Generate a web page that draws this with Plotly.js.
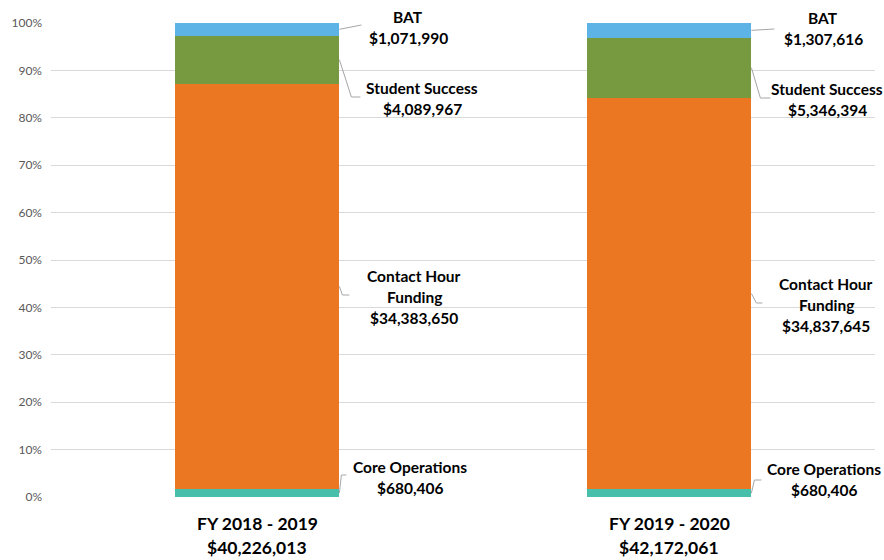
<!DOCTYPE html>
<html><head><meta charset="utf-8">
<script src="https://cdn.plot.ly/plotly-3.0.1.min.js"></script>
<style>body{margin:0;background:#fff}</style></head>
<body><div id="chart" style="width:884px;height:560px"></div>
<script>
// ---- data ----
const years = ['FY 2018 - 2019', 'FY 2019 - 2020'];
const seriesNames = ['Core Operations', 'Contact Hour Funding', 'Student Success', 'BAT'];
const labelLines = [['Core Operations'], ['Contact Hour', 'Funding'], ['Student Success'], ['BAT']];
const coreOps = [680406, 680406];
const contactHour = [34383650, 34837645];
const studentSuccess = [4089967, 5346394];
const bat = [1071990, 1307616];
const yTickVals = [0, 10, 20, 30, 40, 50, 60, 70, 80, 90, 100];
const yTickText = yTickVals.map(v => v + '%');

const series = [coreOps, contactHour, studentSuccess, bat];
const colors = ['#47BFAA', '#EC7723', '#77993F', '#5DB3E6'];

// ---- geometry of plot area (layout only) ----
const W = 884, H = 560, M = {l: 51, r: 9, t: 23, b: 63};
const PW = W - M.l - M.r, PH = H - M.t - M.b;
const catW = PW / years.length;
const barFrac = 0.4;
const fmt = v => '$' + v.toLocaleString('en-US');
const totals = years.map((_, i) => series.reduce((s, a) => s + a[i], 0));

const px = X => (X - M.l) / PW;
const py = Y => (H - M.b - Y) / PH;
const pctToY = p => H - M.b - p / 100 * PH;

const labelLayout = [
  [ {dx: 153, y: 467, lead: [[2, 475], [7, 475]]},
    {dx: 157, y: 276, lead: [[3, 295], [10, 295]]},
    {dx: 165, y: 88,  lead: [[12, 97], [21, 97]]},
    {dx: 151, y: 17,  lead: [[22, 25]]} ],
  [ {dx: 155, y: 469, lead: [[3, 480], [10, 480]]},
    {dx: 157, y: 284, lead: [[5, 303], [11, 303]]},
    {dx: 158, y: 89,  lead: [[9, 98], [19, 98]]},
    {dx: 154, y: 18,  lead: [[23, 29]]} ]
];
const lineGap = 21;
const lblFont = {family: 'Lato, "Open Sans", sans-serif', size: 15.5, color: '#000'};

const traces = series.map((vals, s) => ({
  type: 'bar', name: seriesNames[s], x: [0, 1], y: vals,
  marker: {color: colors[s], line: {width: 0}}, width: barFrac,
  hoverinfo: 'skip'
}));

const annotations = [];
const shapes = [];
years.forEach((yr, i) => {
  const cx = M.l + (i + 0.5) * catW;
  const edge = cx + barFrac / 2 * catW;
  let cum = 0;
  series.forEach((vals, s) => {
    const pct = vals[i] / totals[i] * 100;
    const mid = cum + pct / 2;
    cum += pct;
    const L = labelLayout[i][s];
    const lines = labelLines[s].concat([fmt(vals[i])]);
    lines.forEach((t, k) => {
      annotations.push({xref: 'paper', yref: 'paper', x: px(cx + L.dx), y: py(L.y + k * lineGap),
        xanchor: 'center', yanchor: 'middle', text: '<b>' + t + '</b>', showarrow: false, font: lblFont});
    });
    let path = 'M' + px(edge) + ',' + py(pctToY(mid));
    L.lead.forEach(p => { path += ' L' + px(edge + p[0]) + ',' + py(p[1]); });
    shapes.push({type: 'path', xref: 'paper', yref: 'paper', path: path,
      line: {color: '#a6a6a6', width: 1}});
  });
  [yr, fmt(totals[i])].forEach((t, k) => {
    annotations.push({xref: 'paper', yref: 'paper', x: px(cx), y: py(523 + k * 24),
      xanchor: 'center', yanchor: 'middle', text: '<b>' + t + '</b>', showarrow: false,
      font: {family: 'Lato, "Open Sans", sans-serif', size: 17.5, color: '#000'}});
  });
});

const layout = {
  width: W, height: H, margin: M, paper_bgcolor: '#fff', plot_bgcolor: '#fff',
  barmode: 'stack', barnorm: 'percent', showlegend: false,
  xaxis: {range: [-0.5, 1.5], tickvals: [0, 1], ticktext: years, showticklabels: false,
    showgrid: false, zeroline: false, showline: false, fixedrange: true},
  yaxis: {range: [0, 100], tickmode: 'array', tickvals: yTickVals, ticktext: yTickText, showgrid: true,
    gridcolor: '#d9d9d9', gridwidth: 1, zeroline: false, showline: false, ticks: '',
    ticklabelstandoff: 8,
    tickfont: {family: 'Lato, "Open Sans", sans-serif', size: 12, color: '#595959'}, fixedrange: true},
  annotations: annotations, shapes: shapes
};
Plotly.newPlot('chart', traces, layout, {displayModeBar: false, staticPlot: true});
</script></body></html>
